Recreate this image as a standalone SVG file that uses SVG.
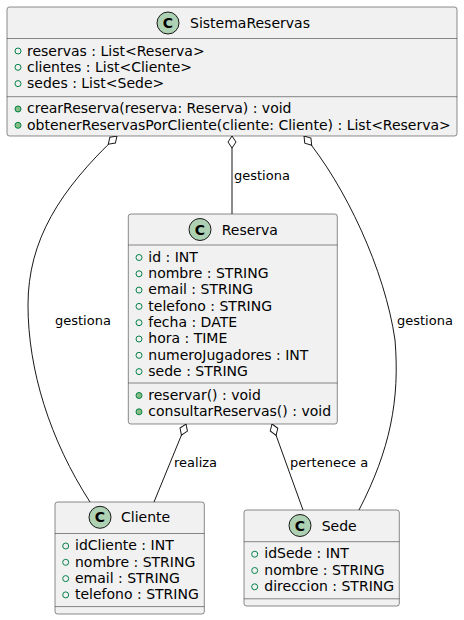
<svg xmlns="http://www.w3.org/2000/svg" width="464" height="620" viewBox="0 0 464 620">
<defs>
<style>
.box{fill:#F1F1F1;stroke:#181818;stroke-width:0.5}
.sep{stroke:#181818;stroke-width:0.5}
.ci{fill:#ADD1B2;stroke:#181818;stroke-width:1}
.cl{font-family:"DejaVu Sans",sans-serif;font-size:14px;font-weight:bold;fill:#000;text-anchor:middle}
.t{font-family:"DejaVu Sans",sans-serif;font-size:14px;fill:#000}
.lb{font-family:"DejaVu Sans",sans-serif;font-size:13px;fill:#000}
.fa{fill:none;stroke:#038048;stroke-width:1}
.me{fill:#84BE84;stroke:#038048;stroke-width:1}
.ln{fill:none;stroke:#181818;stroke-width:1}
</style>
<marker id="agg" markerUnits="userSpaceOnUse" markerWidth="14" markerHeight="10" viewBox="-1 -5 14 10" refX="0" refY="0" orient="auto">
<path d="M0,0 L6,-4 L12,0 L6,4 Z" fill="#FFFFFF" stroke="#181818" stroke-width="1"/>
</marker>
</defs>
<rect width="464" height="620" fill="#FFFFFF"/>
<g id="connectors">
<path class="ln" d="M232,136 L232,214" marker-start="url(#agg)"/>
<text class="lb" x="234" y="180">gestiona</text>
<path class="ln" d="M117,136 C60,190 28,240 28,305 C28,370 50,440 90,502" marker-start="url(#agg)"/>
<text class="lb" x="55" y="325">gestiona</text>
<path class="ln" d="M304,136 C345,185 385,270 395,340 C400,400 390,450 359,510" marker-start="url(#agg)"/>
<text class="lb" x="397" y="325">gestiona</text>
<path class="ln" d="M186,424 L154,502" marker-start="url(#agg)"/>
<text class="lb" x="174" y="467">realiza</text>
<path class="ln" d="M272,424 L303,510" marker-start="url(#agg)"/>
<text class="lb" x="290" y="467">pertenece a</text>
</g>
<g id="SistemaReservas">
<rect class="box" x="7" y="7" width="450" height="129" rx="2.5"/>
<circle class="ci" cx="168" cy="23" r="11"/>
<text class="cl" x="168" y="28">C</text>
<text class="t" x="190" y="28">SistemaReservas</text>
<line class="sep" x1="7" y1="38.5" x2="457" y2="38.5"/>
<circle class="fa" cx="18" cy="51" r="3"/><text class="t" x="27" y="55.5">reservas : List&lt;Reserva&gt;</text>
<circle class="fa" cx="18" cy="67.3" r="3"/><text class="t" x="27" y="71.8">clientes : List&lt;Cliente&gt;</text>
<circle class="fa" cx="18" cy="83.6" r="3"/><text class="t" x="27" y="88.1">sedes : List&lt;Sede&gt;</text>
<line class="sep" x1="7" y1="96.7" x2="457" y2="96.7"/>
<circle class="me" cx="18" cy="109" r="3"/><text class="t" x="27" y="113.4">crearReserva(reserva: Reserva) : void</text>
<circle class="me" cx="18" cy="125.3" r="3"/><text class="t" x="27" y="129.7">obtenerReservasPorCliente(cliente: Cliente) : List&lt;Reserva&gt;</text>
</g>
<g id="Reserva">
<rect class="box" x="128.3" y="214" width="209" height="210" rx="2.5"/>
<circle class="ci" cx="200" cy="229.5" r="11"/>
<text class="cl" x="200" y="234.5">C</text>
<text class="t" x="221.7" y="234.5">Reserva</text>
<line class="sep" x1="128.3" y1="245" x2="337.3" y2="245"/>
<circle class="fa" cx="139" cy="257.5" r="3"/><text class="t" x="148.3" y="261.7">id : INT</text>
<circle class="fa" cx="139" cy="273.8" r="3"/><text class="t" x="148.3" y="278">nombre : STRING</text>
<circle class="fa" cx="139" cy="290.1" r="3"/><text class="t" x="148.3" y="294.3">email : STRING</text>
<circle class="fa" cx="139" cy="306.4" r="3"/><text class="t" x="148.3" y="310.6">telefono : STRING</text>
<circle class="fa" cx="139" cy="322.7" r="3"/><text class="t" x="148.3" y="326.9">fecha : DATE</text>
<circle class="fa" cx="139" cy="339" r="3"/><text class="t" x="148.3" y="343.2">hora : TIME</text>
<circle class="fa" cx="139" cy="355.3" r="3"/><text class="t" x="148.3" y="359.5">numeroJugadores : INT</text>
<circle class="fa" cx="139" cy="371.6" r="3"/><text class="t" x="148.3" y="375.8">sede : STRING</text>
<line class="sep" x1="128.3" y1="383" x2="337.3" y2="383"/>
<circle class="me" cx="139" cy="395.5" r="3"/><text class="t" x="148.3" y="399.7">reservar() : void</text>
<circle class="me" cx="139" cy="411.8" r="3"/><text class="t" x="148.3" y="416">consultarReservas() : void</text>
</g>
<g id="Cliente">
<rect class="box" x="55" y="502" width="149.3" height="112" rx="2.5"/>
<circle class="ci" cx="100" cy="517.3" r="11"/>
<text class="cl" x="100" y="522.3">C</text>
<text class="t" x="121" y="522.3">Cliente</text>
<line class="sep" x1="55" y1="533.5" x2="204.3" y2="533.5"/>
<circle class="fa" cx="65.7" cy="546" r="3"/><text class="t" x="75" y="550.2">idCliente : INT</text>
<circle class="fa" cx="65.7" cy="562.3" r="3"/><text class="t" x="75" y="566.5">nombre : STRING</text>
<circle class="fa" cx="65.7" cy="578.6" r="3"/><text class="t" x="75" y="582.8">email : STRING</text>
<circle class="fa" cx="65.7" cy="594.9" r="3"/><text class="t" x="75" y="599.1">telefono : STRING</text>
<line class="sep" x1="55" y1="606.6" x2="204.3" y2="606.6"/>
</g>
<g id="Sede">
<rect class="box" x="244" y="510" width="155.3" height="96" rx="2.5"/>
<circle class="ci" cx="300" cy="525.5" r="11"/>
<text class="cl" x="300" y="530.5">C</text>
<text class="t" x="321.7" y="530.5">Sede</text>
<line class="sep" x1="244" y1="541.7" x2="399.3" y2="541.7"/>
<circle class="fa" cx="254.7" cy="554.2" r="3"/><text class="t" x="264.3" y="558.4">idSede : INT</text>
<circle class="fa" cx="254.7" cy="570.5" r="3"/><text class="t" x="264.3" y="574.7">nombre : STRING</text>
<circle class="fa" cx="254.7" cy="586.8" r="3"/><text class="t" x="264.3" y="591">direccion : STRING</text>
<line class="sep" x1="244" y1="598.8" x2="399.3" y2="598.8"/>
</g>
</svg>
